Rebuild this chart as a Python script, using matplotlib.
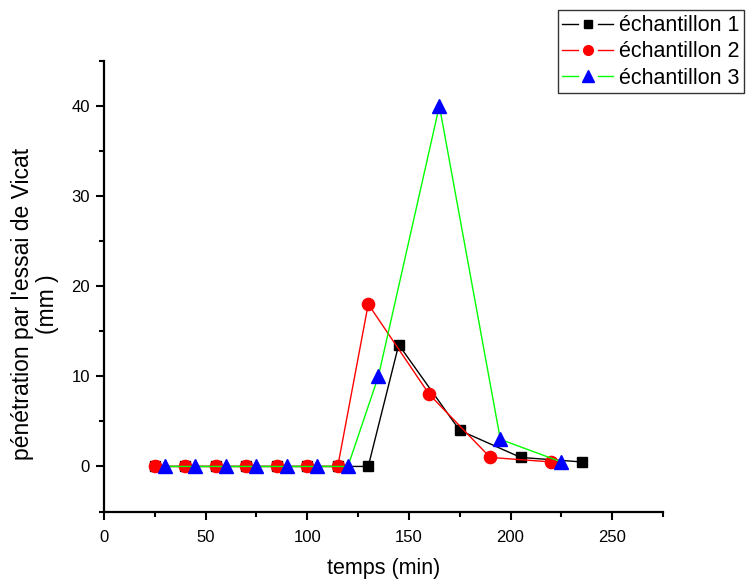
import matplotlib
matplotlib.use("Agg")
import matplotlib.pyplot as plt
from matplotlib.ticker import MultipleLocator
from matplotlib.lines import Line2D

plt.rcParams['font.family'] = ['Liberation Sans', 'DejaVu Sans']

# Vicat penetration measurements (time in min, penetration in mm)
t1 = [25, 40, 55, 70, 85, 100, 115, 130, 145, 175, 205, 235]
p1 = [0, 0, 0, 0, 0, 0, 0, 0, 13.5, 4, 1, 0.5]

t2 = [25, 40, 55, 70, 85, 100, 115, 130, 160, 190, 220]
p2 = [0, 0, 0, 0, 0, 0, 0, 18, 8, 1, 0.5]

t3 = [30, 45, 60, 75, 90, 105, 120, 135, 165, 195, 225]
p3 = [0, 0, 0, 0, 0, 0, 0, 10, 40, 3, 0.5]

labels = ["échantillon 1", "échantillon 2", "échantillon 3"]

line_colors = ['black', '#ff0000', '#00ff00']
marker_colors = ['black', '#ff0000', '#0000ff']
markers = ['s', 'o', '^']
marker_sizes = [7.5, 8.8, 9.5]
legend_marker_sizes = [5.2, 7.0, 8.5]

fig = plt.figure(figsize=(7.46, 5.83), dpi=100)
ax = fig.add_axes([0.1394, 0.1226, 0.7493, 0.7733])

for t, p, lc, mc, m, ms in zip((t1, t2, t3), (p1, p2, p3), line_colors,
                               marker_colors, markers, marker_sizes):
    ax.plot(t, p, color=lc, lw=1.0, marker=m, ms=ms, mfc=mc, mec=mc)

ax.set_xlim(0, 275)
ax.set_ylim(-5, 45)
ax.xaxis.set_major_locator(MultipleLocator(50))
ax.xaxis.set_minor_locator(MultipleLocator(25))
ax.yaxis.set_major_locator(MultipleLocator(10))
ax.yaxis.set_minor_locator(MultipleLocator(5))

for side in ('top', 'right'):
    ax.spines[side].set_visible(False)
for side in ('left', 'bottom'):
    ax.spines[side].set_linewidth(1.6)

ax.tick_params(which='major', direction='out', length=6, width=1.5,
               labelsize=12)
ax.tick_params(axis='x', which='major', pad=7)
ax.tick_params(axis='y', which='major', pad=4)
ax.tick_params(which='minor', direction='out', length=3.5, width=1.5)

ax.set_xlabel("temps (min)", fontsize=15.5, labelpad=10)
ax.set_ylabel("pénétration par l'essai de Vicat\n(mm )", fontsize=16.5,
              linespacing=1.1)
ax.yaxis.set_label_coords(-0.08, 0.461)

# Legend entries: line with a gap around the marker
handles = []
for lc, mc, m, lms in zip(line_colors, marker_colors, markers,
                          legend_marker_sizes):
    gap = Line2D([], [], color=lc, lw=1.0, marker='o', ms=12.5,
                 mfc='white', mec='white')
    mark = Line2D([], [], ls='none', marker=m, ms=lms, mfc=mc, mec=mc)
    handles.append((gap, mark))

leg = fig.legend(handles, labels, loc='upper right',
                 bbox_to_anchor=(0.9975, 0.982),
                 fontsize=15.5, frameon=True, fancybox=False, shadow=False,
                 handlelength=2.35, handletextpad=0.28, labelspacing=0.24,
                 borderpad=0.22, borderaxespad=0.0)
leg.get_frame().set_edgecolor('black')
leg.get_frame().set_linewidth(1.0)

fig.savefig("out.png", dpi=100)
